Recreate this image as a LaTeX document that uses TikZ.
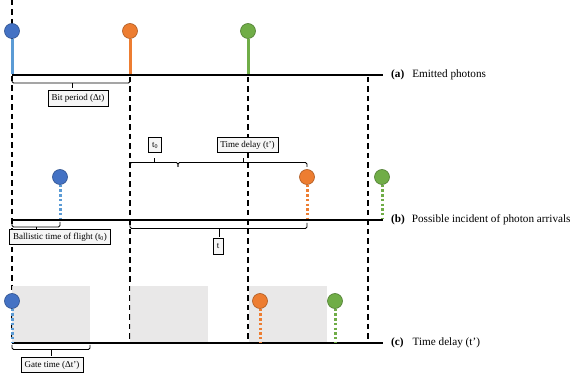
\documentclass[tikz,border=0pt]{standalone}
\usepackage{fontspec}
\setmainfont{Liberation Serif}
\definecolor{cblue}{HTML}{4472C4}
\definecolor{cblueD}{HTML}{2F528F}
\definecolor{sblue}{HTML}{5B9BD5}
\definecolor{corange}{HTML}{ED7D31}
\definecolor{corangeD}{HTML}{AE5A21}
\definecolor{cgreen}{HTML}{70AD47}
\definecolor{cgreenD}{HTML}{507E32}
\definecolor{gatefill}{HTML}{E7E6E6}
\begin{document}
\begin{tikzpicture}[x=1pt,y=-1pt,
  axis/.style={line width=1.6pt, black},
  vdash/.style={line width=1.6pt, dash pattern=on 5.5pt off 4pt},
  ball/.style={circle, minimum size=15pt, inner sep=0pt, line width=0.6pt},
  solidstem/.style={line width=3pt},
  dotstem/.style={line width=3pt, dash pattern=on 2.5pt off 2.2pt},
  lbl/.style={draw, line width=0.5pt, fill=gray!7, font=\fontsize{9}{10}\selectfont, inner xsep=3.5pt, inner ysep=0pt, minimum height=15.5pt},
  brace/.style={line width=0.8pt, rounded corners=1.5pt},
  axlbl/.style={anchor=west, font=\fontsize{11.2}{13}\selectfont, inner sep=0pt},
  gate/.style={fill=gatefill, fill opacity=0.9}]
\useasboundingbox (0,0) rectangle (574,377);

% axis coordinates
\coordinate (a0) at (12,75);  \coordinate (a1) at (383,75);
\coordinate (b0) at (12,220); \coordinate (b1) at (383,220);
\coordinate (c0) at (12,343); \coordinate (c1) at (383,343);

% vertical dashed lines
\coordinate (v0t) at (12,0);    \coordinate (v0b) at (12,343);
\coordinate (v1t) at (130,77);  \coordinate (v1b) at (130,343);
\coordinate (v2t) at (248,77);  \coordinate (v2b) at (248,343);
\coordinate (v3t) at (368,77);  \coordinate (v3b) at (368,343);
\draw[vdash] (v0t) -- (v0b);
\draw[vdash] (v1t) -- (v1b);
\draw[vdash] (v2t) -- (v2b);
\draw[vdash] (v3t) -- (v3b);

% gate windows
\fill[gate] (12,286) rectangle (90,343);
\fill[gate] (129.5,286) rectangle (208,343);
\fill[gate] (248.5,286) rectangle (327,343);

% axes
\draw[axis] (a0) -- (a1);
\draw[axis] (b0) -- (b1);
\draw[axis] (c0) -- (c1);

% (a) emitted photons
\node[ball, fill=cblue, draw=cblueD] (pa1) at (12,31) {};
\node[ball, fill=corange, draw=corangeD] (pa2) at (130,31) {};
\node[ball, fill=cgreen, draw=cgreenD] (pa3) at (248,31) {};
\coordinate (sa1) at (12,74.2); \coordinate (sa2) at (130,74.2); \coordinate (sa3) at (248,74.2);
\draw[solidstem, sblue] (pa1.south) -- (sa1);
\draw[solidstem, corange] (pa2.south) -- (sa2);
\draw[solidstem, cgreen] (pa3.south) -- (sa3);

% (b) arrivals
\node[ball, fill=cblue, draw=cblueD] (pb1) at (60,177) {};
\node[ball, fill=corange, draw=corangeD] (pb2) at (307,177) {};
\node[ball, fill=cgreen, draw=cgreenD] (pb3) at (382,177) {};
\coordinate (sb1) at (60,219.5); \coordinate (sb2) at (307,219.5); \coordinate (sb3) at (382,219.5);
\draw[dotstem, sblue] (pb1.south) -- (sb1);
\draw[dotstem, corange] (pb2.south) -- (sb2);
\draw[dotstem, cgreen] (pb3.south) -- (sb3);

% (c) gated
\node[ball, fill=cblue, draw=cblueD] (pc1) at (12,301) {};
\node[ball, fill=corange, draw=corangeD] (pc2) at (260,301) {};
\node[ball, fill=cgreen, draw=cgreenD] (pc3) at (335,301) {};
\coordinate (sc1) at (12,342.5); \coordinate (sc2) at (260,342.5); \coordinate (sc3) at (335,342.5);
\draw[dotstem, sblue] (pc1.south) -- (sc1);
\draw[dotstem, corange] (pc2.south) -- (sc2);
\draw[dotstem, cgreen] (pc3.south) -- (sc3);

% axis labels
\node[axlbl] (la) at (391,75) {\textbf{(a)}\hspace{8pt}Emitted photons};
\node[axlbl] (lb) at (391,220) {\textbf{(b)}\hspace{7pt}Possible incident of photon arrivals};
\node[axlbl] (lc) at (391,343) {\textbf{(c)}\hspace{9pt}Time delay (t')};

% braces
\draw[brace] (12,78) -- (12,83) -- (130,83) -- (130,78);
\draw[brace] (72,83) -- (72,88);
\node[lbl] (bp) at (78,98.5) {Bit period (Δt)};

\draw[brace] (130,167) -- (130,162.5) -- (178,162.5) -- (178,167);
\draw[brace] (154,162.5) -- (154,158.5);
\node[lbl] (tz) at (155,145) {t\textsubscript{0}};
\draw[brace] (178,167) -- (178,162.5) -- (307,162.5) -- (307,167);
\draw[brace] (243,162.5) -- (243,158.5);
\node[lbl] (td) at (247.5,145) {Time delay (t')};

\draw[brace] (12,222) -- (12,227) -- (60,227) -- (60,222);
\draw[brace] (36,227) -- (36,230);
\node[lbl] (bt) at (60,237) {Ballistic time of flight (t\textsubscript{0})};

\draw[brace] (130,223) -- (130,228.5) -- (307,228.5) -- (307,223);
\draw[brace] (219,228.5) -- (219,237);
\node[lbl] (tt) at (218,246.5) {t};

\draw[brace] (12,345) -- (12,349.5) -- (90,349.5) -- (90,345);
\draw[brace] (51,349.5) -- (51,356);
\node[lbl] (gt) at (52,365) {Gate time (Δt')};
\end{tikzpicture}
\end{document}
